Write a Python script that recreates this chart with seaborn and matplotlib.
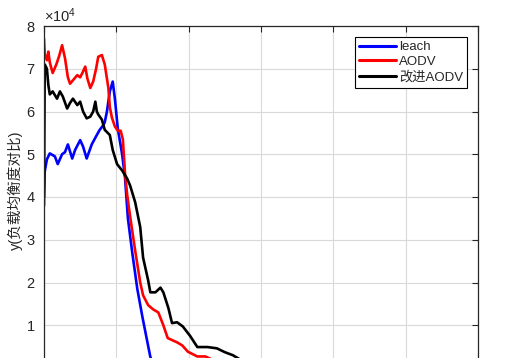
import matplotlib
matplotlib.use("Agg")
import matplotlib.pyplot as plt
import matplotlib.ticker as mticker
import seaborn as sns
import pandas as pd

# ---- data (values x 1e4 on y) ----
series_names = ["leach", "AODV", "改进AODV"]

leach_x = [0, 1, 4, 8, 12, 15, 19, 25, 29, 33, 39, 43, 50, 54, 59, 66, 73, 77, 82, 84,
           87, 91, 95, 98, 102, 108, 112, 116, 122, 129, 136, 143, 147, 152]
leach_y = [4.0, 4.6, 4.88, 5.02, 4.98, 4.95, 4.77, 5.0, 5.05, 5.23, 4.9, 5.1, 5.33, 5.18,
           4.9, 5.23, 5.45, 5.57, 5.68, 5.75, 6.0, 6.47, 6.7, 6.3, 5.6, 5.0, 4.45, 3.5,
           2.7, 1.85, 1.2, 0.6, 0.26, 0.05]

aodv_x = [0, 1, 4, 6, 8, 12, 17, 21, 25, 29, 33, 36, 41, 46, 50, 53, 57, 60, 64, 68,
          72, 75, 80, 84, 89, 91, 94, 98, 102, 106, 109, 112, 115, 119, 126, 133, 137,
          144, 151, 158, 165, 171, 184, 191, 199, 212, 223, 232, 246, 264]
aodv_y = [7.7, 7.35, 7.2, 7.4, 7.15, 6.9, 7.1, 7.3, 7.55, 7.25, 6.8, 6.65, 6.75, 6.85,
          6.8, 6.9, 7.05, 6.77, 6.55, 6.7, 7.0, 7.28, 7.32, 7.1, 6.55, 6.1, 5.85, 5.65,
          5.55, 5.55, 5.35, 4.55, 4.05, 3.55, 2.75, 2.0, 1.7, 1.47, 1.37, 1.3, 1.0, 0.7,
          0.6, 0.53, 0.38, 0.27, 0.27, 0.2, 0.15, 0.1]

imp_x = [0, 1, 4, 6, 8, 12, 18, 22, 26, 32, 36, 40, 46, 50, 54, 59, 64, 68, 71, 73,
         75, 80, 84, 91, 95, 101, 108, 115, 119, 126, 133, 137, 144, 147, 154, 161, 165,
         172, 177, 184, 192, 202, 212, 226, 239, 250, 261, 271, 285]
imp_y = [3.8, 7.1, 7.0, 6.62, 6.4, 6.47, 6.3, 6.47, 6.35, 6.07, 6.2, 6.3, 6.15, 6.23,
         6.0, 5.84, 5.88, 6.0, 6.23, 6.0, 5.93, 5.81, 5.57, 5.45, 5.1, 4.77, 4.62, 4.43,
         4.27, 3.88, 3.3, 2.58, 2.05, 1.77, 1.77, 1.88, 1.77, 1.4, 1.05, 1.07, 0.97,
         0.75, 0.49, 0.49, 0.46, 0.37, 0.3, 0.2, 0.1]

x_ticks = [0, 100, 200, 300, 400, 500, 600]
y_ticks = [0, 1, 2, 3, 4, 5, 6, 7, 8]
colors = ["#0000ff", "#ff0000", "#000000"]

frames = []
for name, xs, ys in [(series_names[0], leach_x, leach_y),
                     (series_names[1], aodv_x, aodv_y),
                     (series_names[2], imp_x, imp_y)]:
    frames.append(pd.DataFrame({"x": xs, "y": [v * 1e4 for v in ys], "series": name}))
df = pd.concat(frames, ignore_index=True)

sns.set_style("white")
plt.rcParams["font.family"] = ["Liberation Sans", "Noto Sans CJK SC", "DejaVu Sans"]
plt.rcParams["mathtext.fontset"] = "custom"
plt.rcParams["mathtext.rm"] = "Liberation Sans"

fig = plt.figure(figsize=(5.14, 3.58), dpi=100)
ax = fig.add_axes([44 / 514, -10 / 358, 434 / 514, 342 / 358])

sns.lineplot(data=df, x="x", y="y", hue="series", hue_order=series_names,
             palette=colors, linewidth=1.9, sort=False, estimator=None, ax=ax)

ax.set_xlim(0, 600)
ax.set_ylim(0, 8e4)
ax.set_xticks(x_ticks)
ax.set_yticks([v * 1e4 for v in y_ticks])
ax.grid(True, color="#d9d9d9", linewidth=0.8)
ax.set_axisbelow(True)

fmt = mticker.ScalarFormatter(useMathText=True)
fmt.set_powerlimits((0, 0))
ax.yaxis.set_major_formatter(fmt)
ax.yaxis.get_offset_text().set_fontsize(10.5)
ax.yaxis.get_offset_text().set_color("#262626")

ax.tick_params(axis="both", direction="in", length=4, width=0.8, top=True, right=True,
               labelsize=10.5, colors="#262626")
ax.tick_params(axis="x", labelbottom=False)
ax.tick_params(axis="y", pad=6)
for s in ax.spines.values():
    s.set_visible(True)
    s.set_color("#262626")
    s.set_linewidth(0.9)

fig.canvas.draw()
for lbl in ax.get_yticklabels():
    if lbl.get_position()[1] == 0:
        lbl.set_visible(False)

ax.set_xlabel("")
ax.set_ylabel("y(负载均衡度对比)", fontsize=10.5, color="#262626")
ax.yaxis.set_label_coords(-0.048, 0.52)

leg = ax.legend(loc="upper right", bbox_to_anchor=(0.9747, 0.9678), borderaxespad=0,
                fontsize=9.5, frameon=True, fancybox=False, framealpha=1,
                edgecolor="black", handlelength=2.8, handletextpad=0.25,
                labelspacing=0.2, borderpad=0.3)
leg.get_frame().set_linewidth(0.8)
for line in leg.get_lines():
    line.set_linewidth(2.2)

fig.savefig("out.png", dpi=100)
